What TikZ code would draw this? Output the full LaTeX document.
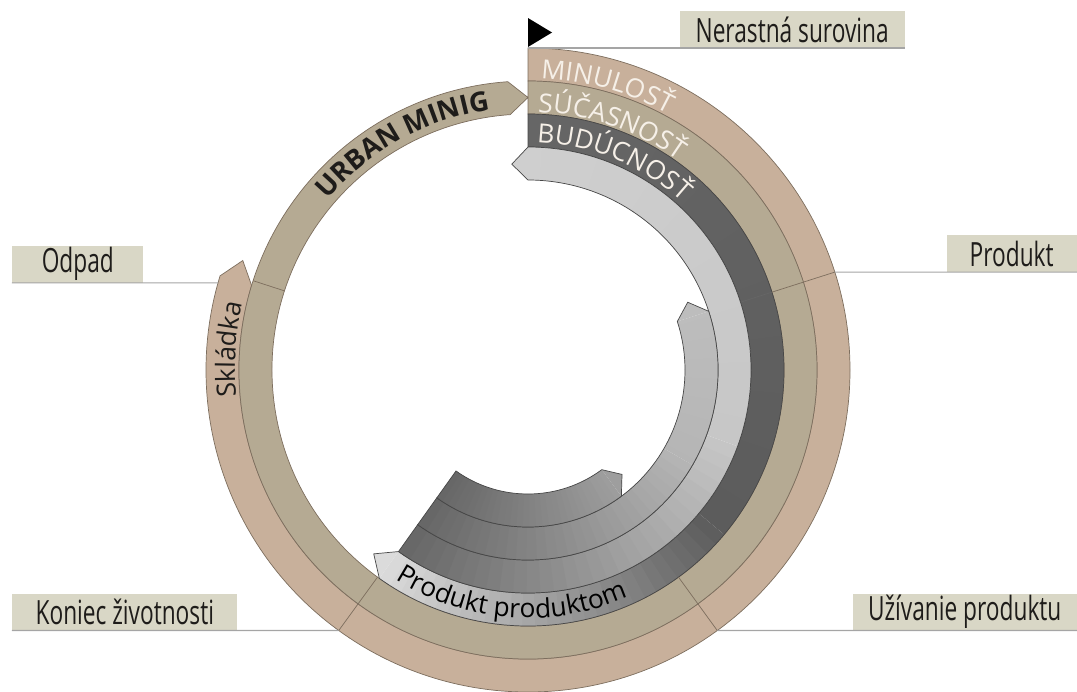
\documentclass[tikz,border=0pt]{standalone}
\usepackage{fontspec}
\setmainfont{Open Sans}
\newfontfamily\narrowfont[FakeStretch=0.68]{Open Sans}
\usepackage{xcolor}
\usetikzlibrary{decorations.text}
\definecolor{lpink}{RGB}{200,176,155}
\definecolor{ltan}{RGB}{181,170,147}
\definecolor{lbox}{RGB}{217,215,198}
\definecolor{lline}{RGB}{165,165,165}
\definecolor{dline}{RGB}{125,110,94}
\definecolor{cream}{RGB}{246,240,232}
\definecolor{dtext}{RGB}{30,28,26}
\newcommand{\ringfont}{\fontsize{15}{18}\selectfont}
\newcommand{\GrayBand}[6]{%
  \foreach \k in {0,...,29}{%
    \pgfmathsetmacro{\angA}{#3+(#4-#3)*\k/30}%
    \pgfmathsetmacro{\angB}{max(#4,#3+(#4-#3)*(\k+1)/30-0.4)}%
    \pgfmathsetmacro{\pct}{#5+(#6-#5)*(\k+0.5)/30}%
    \fill[black!\pct] (\angA:#1) arc[start angle=\angA, end angle=\angB, radius=#1]
      -- (\angB:#2) arc[start angle=\angB, end angle=\angA, radius=#2] -- cycle;
  }}
\tikzstyle{Box} = [
fill=lbox,
minimum height=0.73cm,
inner sep=0pt,
text=dtext,
font=\narrowfont\fontsize{19}{22}\selectfont]
\tikzstyle{Leader} = [draw=lline, line width=0.6pt]
\tikzstyle{Edge} = [draw=dline, line width=0.4pt]
\tikzstyle{GrayEdge} = [draw=black!72, line width=0.4pt]

\begin{document}
\begin{tikzpicture}[x=0.02cm, y=0.02cm]
    \useasboundingbox (-528,-321) rectangle (549,370);

    \filldraw[fill=lpink, Edge] (90:322) arc[start angle=90, end angle=-197, radius=322]
        -- (-201:305.5) -- (-197:289) arc[start angle=-197, end angle=90, radius=289] -- cycle;
    \filldraw[fill=ltan, Edge] (90:289) arc[start angle=90, end angle=-266, radius=289]
        -- (-270:272.5) -- (-266:256) arc[start angle=-266, end angle=90, radius=256] -- cycle;

    \GrayBand{223}{256}{90}{-40}{60}{64}
    \GrayBand{223}{256}{-40}{-125.5}{64}{14}
    \fill[black!14] (-125.5:223) -- (-130:240) -- (-125.5:256) -- cycle;
    \draw[GrayEdge] (90:256) arc[start angle=90, end angle=-125.5, radius=256]
        -- (-130:240) -- (-125.5:223) arc[start angle=-125.5, end angle=90, radius=223] -- cycle;

    \GrayBand{190}{223}{90}{-20}{19}{22}
    \GrayBand{190}{223}{-20}{-125.5}{22}{60}
    \fill[black!19] (90:190) -- (94.5:206.5) -- (90:223) -- cycle;
    \draw[GrayEdge] (94.5:206.5) -- (90:223) arc[start angle=90, end angle=-125.5, radius=223]
        -- (-125.5:190) arc[start angle=-125.5, end angle=90, radius=190] -- cycle;

    \GrayBand{157}{190}{18}{-30}{26}{29}
    \GrayBand{157}{190}{-30}{-125.5}{29}{60}
    \fill[black!26] (18:157) -- (23:173.5) -- (18:190) -- cycle;
    \draw[GrayEdge] (23:173.5) -- (18:190) arc[start angle=18, end angle=-125.5, radius=190]
        -- (-125.5:157) arc[start angle=-125.5, end angle=18, radius=157] -- cycle;

    \GrayBand{124}{157}{-53.5}{-125.5}{38}{60}
    \fill[black!38] (-53.5:124) -- (-48:140.5) -- (-53.5:157) -- cycle;
    \draw[GrayEdge] (-48:140.5) -- (-53.5:157) arc[start angle=-53.5, end angle=-125.5, radius=157]
        -- (-125.5:124) arc[start angle=-125.5, end angle=-53.5, radius=124] -- cycle;

    \draw[Edge, draw=black!60] (17.7:223) -- (17.7:256);
    \draw[Edge] (17.7:256) -- (17.7:322);
    \draw[Edge] (-54:256) -- (-54:322);
    \draw[Edge] (-126:256) -- (-126:322);
    \draw[Edge] (162:256) -- (162:289);

    \path[decorate, decoration={text along path, text align=left,
        text={|\ringfont\color{cream}|MINULOSŤ}}]
        (87.5:292) arc[start angle=87.5, end angle=20, radius=292];
    \path[decorate, decoration={text along path, text align=left,
        text={|\ringfont\color{cream}|SÚČASNOSŤ}}]
        (87.8:258) arc[start angle=87.8, end angle=20, radius=258];
    \path[decorate, decoration={text along path, text align=left,
        text={|\ringfont\color{cream}|BUDÚCNOSŤ}}]
        (87.8:228) arc[start angle=87.8, end angle=10, radius=228];
    \path[decorate, decoration={text along path, text align=center,
        text={|\fontsize{15.5}{18}\selectfont\bfseries\color{dtext}|URBAN MINIG}}]
        (149:263) arc[start angle=149, end angle=89, radius=263];
    \path[decorate, decoration={text along path, text align=center,
        text={|\ringfont\color{dtext}|Skládka}}]
        (196:293) arc[start angle=196, end angle=156, radius=293];
    \path[decorate, decoration={text along path, text align=center,
        text={|\ringfont\color{black}|Produkt produktom}}]
        (-134:248) arc[start angle=-134, end angle=-54.5, radius=248];

    \node[Box, minimum width=4.5cm, anchor=south east] (1) at (377,322) {Nerastná surovina};
    \node[Box, minimum width=2.6cm, anchor=south east] (2) at (549,97.9) {Produkt};
    \node[Box, minimum width=2.62cm, anchor=south west] (3) at (-516,87.1) {Odpad};
    \node[Box, minimum width=4.5cm, anchor=south west] (4) at (-516,-260.5) {Koniec životnosti};
    \node[Box, minimum width=4.48cm, anchor=south east] (5) at (549,-260.5) {Užívanie produktu};

    \coordinate (p1) at (90:322);
    \coordinate (p2) at (17.7:322);
    \coordinate (p3) at (164.3:322);
    \coordinate (p4) at (-126:322);
    \coordinate (p5) at (-54:322);

    \draw[Leader] (p1) -- (1.south east);
    \draw[Leader] (p2) -- (2.south east);
    \draw[Leader] (3.south west) -- (p3);
    \draw[Leader] (4.south west) -- (p4);
    \draw[Leader] (p5) -- (5.south east);

    \fill[black] (0,323) -- (0,352) -- (24,337.5) -- cycle;
\end{tikzpicture}
\end{document}
